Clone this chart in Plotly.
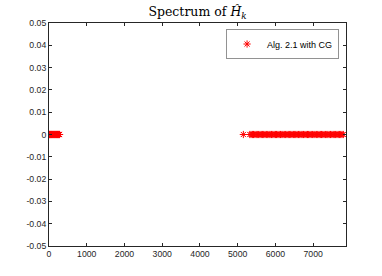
import plotly.graph_objects as go

# Eigenvalue estimates (real parts) of \hat{H}_k; imaginary parts are ~0
low_eigs = [3, 12, 25, 38, 52, 66, 80, 95, 110, 124, 139, 153, 168, 182, 197, 211, 226, 240, 255, 268, 280]
high_eigs = [5150, 5320, 5355, 5390, 5420, 5455, 5490, 5520, 5555, 5590, 5625, 5660, 5690, 5725,
             5760, 5795, 5830, 5860, 5895, 5930, 5965, 6000, 6030, 6065, 6100, 6135, 6170, 6200,
             6235, 6270, 6305, 6340, 6370, 6405, 6440, 6475, 6510, 6540, 6575, 6610, 6645, 6680,
             6710, 6745, 6780, 6815, 6850, 6880, 6915, 6950, 6985, 7020, 7050, 7085, 7120, 7155,
             7190, 7220, 7255, 7290, 7325, 7360, 7390, 7425, 7460, 7495, 7530, 7560, 7595, 7630,
             7665, 7700, 7730, 7765, 7800]
imag_low = [0.0] * len(low_eigs)
imag_high = [0.0] * len(high_eigs)

x_ticks = [0, 1000, 2000, 3000, 4000, 5000, 6000, 7000]
y_ticks = [-0.05, -0.04, -0.03, -0.02, -0.01, 0, 0.01, 0.02, 0.03, 0.04, 0.05]
y_ticktext = ["-0.05", "-0.04", "-0.03", "-0.02", "-0.01", "0", "0.01", "0.02", "0.03", "0.04", "0.05"]
series_name = "Alg. 2.1 with CG"

axis_color = "#262626"
red = "#ff0000"

fig = go.Figure()
fig.add_trace(go.Scatter(
    x=low_eigs + high_eigs,
    y=imag_low + imag_high,
    mode="markers",
    name=series_name,
    marker=dict(symbol="asterisk-open", size=6, color=red, line=dict(color=red, width=1)),
    showlegend=True,
))

axis_common = dict(
    showline=True, linecolor=axis_color, linewidth=1, mirror="ticks",
    ticks="inside", ticklen=3, tickwidth=1, tickcolor=axis_color,
    showgrid=False, zeroline=False,
    tickfont=dict(family="Liberation Sans, Arial, sans-serif", size=8.7, color=axis_color),
)

fig.update_layout(
    width=382, height=276,
    margin=dict(l=49, r=36, t=23, b=30),
    paper_bgcolor="white", plot_bgcolor="white",
    title=dict(
        text="Spectrum of <i>Ĥ</i><sub><i>k</i></sub>",
        x=(49 + 346) / 2 / 382, xanchor="center",
        y=1 - 12 / 276, yanchor="middle", yref="container",
        font=dict(family="DejaVu Serif, Liberation Serif, serif", size=12.5, color="black"),
    ),
    xaxis=dict(range=[0, 7870], tickvals=x_ticks, ticktext=[str(t) for t in x_ticks], **axis_common),
    yaxis=dict(range=[-0.05, 0.05], tickvals=y_ticks, ticktext=y_ticktext, **axis_common),
    legend=dict(
        x=0.975, xanchor="right", y=0.973, yanchor="top",
        bgcolor="white", bordercolor=axis_color, borderwidth=0.5,
        font=dict(family="Liberation Sans, Arial, sans-serif", size=9, color="black"),
        itemwidth=30, tracegroupgap=0,
    ),
)

fig.write_html(
    "out.html",
    config={"displayModeBar": False},
    post_script="document.body.style.margin='0';document.body.style.overflow='hidden';",
)
